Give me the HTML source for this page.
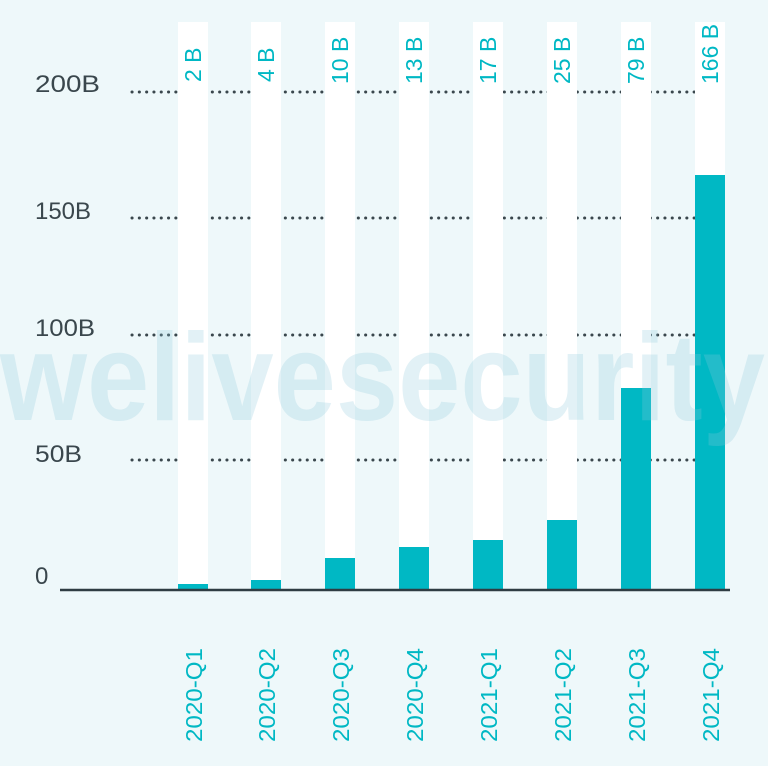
<!DOCTYPE html>
<html><head><style>html,body{margin:0;padding:0;background:#eef8fa;}svg{display:block}</style></head>
<body>
<svg width="768" height="766" viewBox="0 0 768 766" xmlns="http://www.w3.org/2000/svg" font-family="Liberation Sans, sans-serif">
<rect width="768" height="766" fill="#eef8fa"/>
<g stroke="#3a474d" stroke-width="3" stroke-dasharray="0.1 7.2" stroke-linecap="round">
<line x1="132" y1="92" x2="730" y2="92"/>
<line x1="132" y1="218" x2="730" y2="218"/>
<line x1="132" y1="335" x2="730" y2="335"/>
<line x1="132" y1="460" x2="730" y2="460"/>
</g>
<g fill="#ffffff">
<rect x="178" y="22" width="30" height="568"/>
<rect x="251" y="22" width="30" height="568"/>
<rect x="325" y="22" width="30" height="568"/>
<rect x="399" y="22" width="30" height="568"/>
<rect x="473" y="22" width="30" height="568"/>
<rect x="547" y="22" width="30" height="568"/>
<rect x="621" y="22" width="30" height="568"/>
<rect x="695" y="22" width="30" height="568"/>
</g>
<g fill="#3a474d" font-size="24">
<text x="35" y="92" textLength="65" lengthAdjust="spacingAndGlyphs">200B</text>
<text x="35" y="219" textLength="56" lengthAdjust="spacingAndGlyphs">150B</text>
<text x="35" y="336" textLength="60" lengthAdjust="spacingAndGlyphs">100B</text>
<text x="35" y="462" textLength="47" lengthAdjust="spacingAndGlyphs">50B</text>
<text x="35" y="584">0</text>
</g>
<g fill="#00b8c4">
<rect x="178" y="584" width="30" height="6"/>
<rect x="251" y="580" width="30" height="10"/>
<rect x="325" y="558" width="30" height="32"/>
<rect x="399" y="547" width="30" height="43"/>
<rect x="473" y="540" width="30" height="50"/>
<rect x="547" y="520" width="30" height="70"/>
<rect x="621" y="388" width="30" height="202"/>
<rect x="695" y="175" width="30" height="415"/>
</g>
<text x="0" y="420" font-size="124" font-weight="bold" fill="#8cc6dc" fill-opacity="0.25" textLength="765" lengthAdjust="spacingAndGlyphs">welivesecurity</text>
<line x1="60" y1="590" x2="730" y2="590" stroke="#2f3c42" stroke-width="2.5"/>
<g fill="#00b8c4" font-size="23">
<text transform="translate(201,82) rotate(-90)">2 B</text>
<text transform="translate(274,82) rotate(-90)">4 B</text>
<text transform="translate(348,84) rotate(-90)">10 B</text>
<text transform="translate(422,84) rotate(-90)">13 B</text>
<text transform="translate(496,84) rotate(-90)">17 B</text>
<text transform="translate(570,84) rotate(-90)">25 B</text>
<text transform="translate(644,84) rotate(-90)">79 B</text>
<text transform="translate(718,84) rotate(-90)">166 B</text>
</g>
<g fill="#00b8c4" font-size="23" text-anchor="end">
<text transform="translate(202,648) rotate(-90)" textLength="94" lengthAdjust="spacingAndGlyphs">2020-Q1</text>
<text transform="translate(275,648) rotate(-90)" textLength="94" lengthAdjust="spacingAndGlyphs">2020-Q2</text>
<text transform="translate(349,648) rotate(-90)" textLength="94" lengthAdjust="spacingAndGlyphs">2020-Q3</text>
<text transform="translate(423,648) rotate(-90)" textLength="94" lengthAdjust="spacingAndGlyphs">2020-Q4</text>
<text transform="translate(497,648) rotate(-90)" textLength="94" lengthAdjust="spacingAndGlyphs">2021-Q1</text>
<text transform="translate(571,648) rotate(-90)" textLength="94" lengthAdjust="spacingAndGlyphs">2021-Q2</text>
<text transform="translate(645,648) rotate(-90)" textLength="94" lengthAdjust="spacingAndGlyphs">2021-Q3</text>
<text transform="translate(719,648) rotate(-90)" textLength="94" lengthAdjust="spacingAndGlyphs">2021-Q4</text>
</g>
</svg>
</body></html>
